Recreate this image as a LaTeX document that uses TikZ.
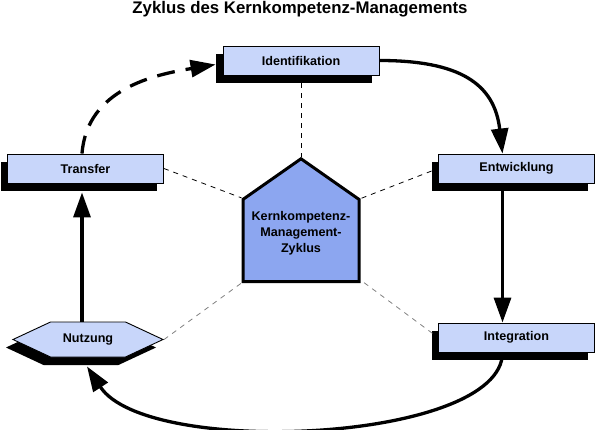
\documentclass[tikz,border=0pt]{standalone}
\usepackage{fontspec}
\setmainfont{Liberation Sans}
\usetikzlibrary{arrows.meta,shapes.symbols,shadows}

\definecolor{boxblue}{RGB}{200,214,250}
\definecolor{houseblue}{RGB}{140,166,240}

\begin{document}
\begin{tikzpicture}[x=1pt,y=-1pt,
  font=\fontsize{12.6}{14}\selectfont\bfseries,
  phase/.style={draw,line width=.9pt,fill=boxblue,inner sep=0pt,
    minimum width=156pt,minimum height=29pt,
    drop shadow={shadow xshift=-7pt,shadow yshift=-8pt,opacity=1,fill=black}},
  flow/.style={-{Triangle[length=25pt,width=17pt]},line width=3.3pt},
  spoke/.style={dash pattern=on 5pt off 5pt,line width=.8pt}]
\useasboundingbox (0,0) rectangle (596,430);
\node[font=\fontsize{16.8}{19}\selectfont\bfseries,anchor=base] (title) at (300,14)
  {Zyklus des Kernkompetenz-Managements};
% Phasen des Zyklus
\node[phase] (ident) at (301,60.5) {Identifikation};
\node[phase] (entw) at (516.5,168.5) {Entwicklung};
\node[phase] (integ) at (516.5,337.5) {Integration};
\node[phase,shape=signal,signal to=west and east,signal pointer angle=50,
  minimum width=150pt,minimum height=35pt] (nutz) at (88,339.5) {Nutzung};
\node[phase] (transfer) at (85.5,168.5) {Transfer};
% Mitte
\node[draw,line width=3pt,fill=houseblue,shape=signal,signal to=north,
  signal from=nowhere,signal pointer angle=110,minimum width=116pt,
  minimum height=119pt,align=center,anchor=south,text depth=17pt,
  font=\fontsize{12.6}{16}\selectfont\bfseries] (house) at (301,283)
  {Kernkompetenz-\\Management-\\Zyklus};
\draw[spoke,shorten <=8pt] (ident.south) -- (house.north);
\draw[spoke] (transfer.east) -- (house.north west);
\draw[spoke,shorten <=7pt] (entw.west) -- (house.north east);
\draw[spoke,gray,shorten <=7pt] (integ.west) -- (house.south east);
\draw[spoke,gray] (nutz.east) -- (house.south west);
% Kreislauf
\draw[flow] (ident.east) .. controls +(80,0) and +(-8,-70) .. ([xshift=-14pt]entw.north);
\draw[flow] ([xshift=-14pt,yshift=-8pt]entw.south) -- ([xshift=-14pt]integ.north);
\draw[flow] ([xshift=-14pt]integ.south) .. controls +(0,90) and +(60,92)
  .. ([xshift=-1pt,yshift=-9pt]nutz.south);
\draw[flow] ([xshift=-6pt]nutz.north) -- ([xshift=-3.5pt,yshift=-9pt]transfer.south);
\draw[flow,dash pattern=on 18pt off 11pt] ([xshift=-3.5pt]transfer.north)
  .. controls +(5,-65) and +(-60,10) .. ([xshift=-7pt,yshift=-4pt]ident.west);
\end{tikzpicture}
\end{document}
